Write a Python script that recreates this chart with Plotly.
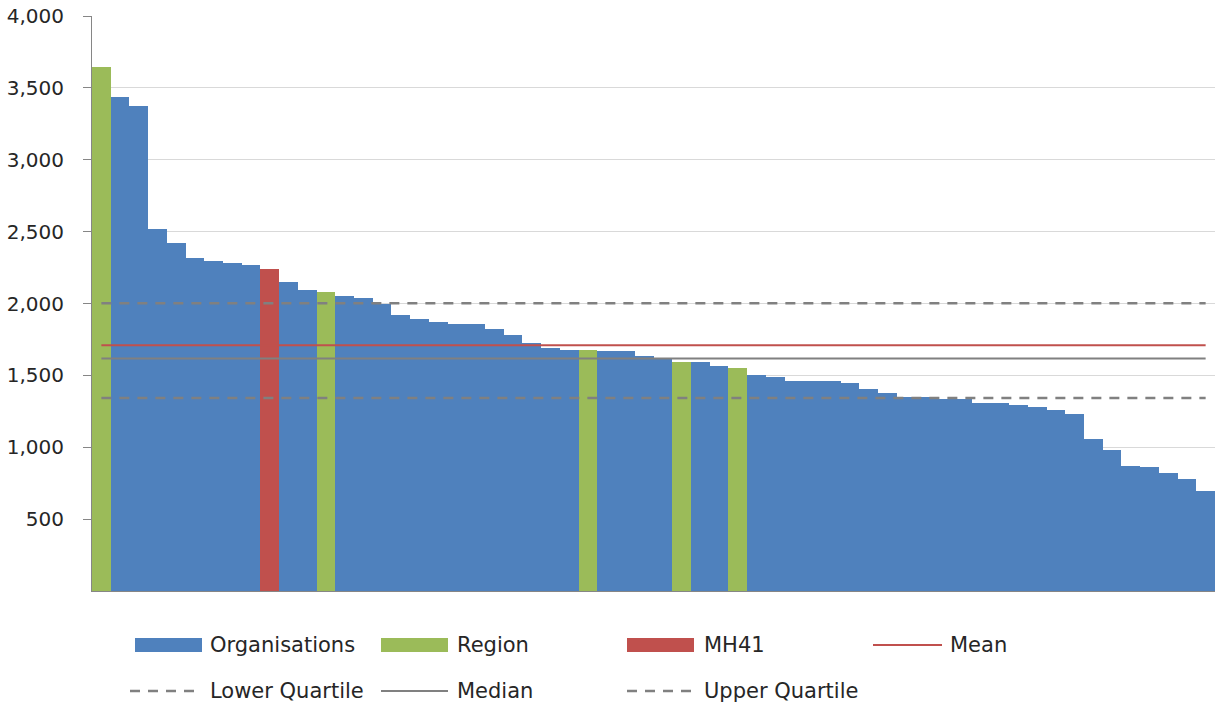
import plotly.graph_objects as go

# ---------------- data ----------------
values = [3647, 3434, 3373, 2517, 2419, 2320, 2294, 2283, 2267, 2238,
          2153, 2097, 2081, 2055, 2036, 1994, 1922, 1895, 1869, 1858,
          1857, 1820, 1783, 1724, 1689, 1680, 1677, 1671, 1671, 1634,
          1622, 1590, 1590, 1562, 1548, 1500, 1486, 1459, 1459, 1459,
          1449, 1406, 1378, 1353, 1353, 1334, 1334, 1306, 1306, 1297,
          1281, 1262, 1228, 1058, 982, 873, 864, 820, 777, 696]
positions = list(range(1, 61))
region_positions = [1, 13, 27, 32, 35]
mh41_positions = [10]

mean_value = 1709
median_value = 1618
lower_quartile = 1343
upper_quartile = 2001

y_tick_values = [500, 1000, 1500, 2000, 2500, 3000, 3500, 4000]
y_tick_labels = ["500", "1,000", "1,500", "2,000", "2,500", "3,000", "3,500", "4,000"]

BLUE = "#4F81BD"
GREEN = "#9BBB59"
RED = "#C0504D"
GREY = "#808080"
FONT = "DejaVu Sans"

# ---------------- series ----------------
org_y = [v if (p not in region_positions and p not in mh41_positions) else None
         for p, v in zip(positions, values)]
reg_y = [v if p in region_positions else None for p, v in zip(positions, values)]
mh_y = [v if p in mh41_positions else None for p, v in zip(positions, values)]

fig = go.Figure()
fig.add_trace(go.Bar(x=positions, y=org_y, name="Organisations",
                     marker=dict(color=BLUE, line=dict(width=0))))
fig.add_trace(go.Bar(x=positions, y=reg_y, name="Region",
                     marker=dict(color=GREEN, line=dict(width=0))))
fig.add_trace(go.Bar(x=positions, y=mh_y, name="MH41",
                     marker=dict(color=RED, line=dict(width=0))))

xs = [positions[0], positions[-1]]
fig.add_trace(go.Scatter(x=xs, y=[mean_value] * 2, mode="lines", name="Mean",
                         line=dict(color=RED, width=2)))
fig.add_trace(go.Scatter(x=xs, y=[lower_quartile] * 2, mode="lines", name="Lower Quartile",
                         line=dict(color=GREY, width=2.5, dash="10px,8px")))
fig.add_trace(go.Scatter(x=xs, y=[median_value] * 2, mode="lines", name="Median",
                         line=dict(color=GREY, width=2)))
fig.add_trace(go.Scatter(x=xs, y=[upper_quartile] * 2, mode="lines", name="Upper Quartile",
                         line=dict(color=GREY, width=2.5, dash="10px,8px")))

# ---------------- layout ----------------
W, H = 1215, 706
L, R, T, B = 92, 0, 16, 115
PW, PH = W - L - R, H - T - B


def px(xp):
    return (xp - L) / PW


def py(yp):
    return (H - B - yp) / PH


fig.update_layout(
    width=W, height=H,
    margin=dict(l=L, r=R, t=T, b=B, pad=0),
    paper_bgcolor="white", plot_bgcolor="white",
    barmode="overlay", bargap=0,
    showlegend=False,
    font=dict(family=FONT, size=20, color="#262626"),
    xaxis=dict(range=[0.5, 60.5], showticklabels=False, ticks="",
               showgrid=False, zeroline=False, showline=True,
               linecolor="#868686", linewidth=1),
    yaxis=dict(range=[0, 4000], tickvals=y_tick_values, ticktext=y_tick_labels,
               ticks="outside", ticklen=8, tickcolor="#868686",
               showline=True, linecolor="#868686", linewidth=1,
               showgrid=True, gridcolor="#D9D9D9", gridwidth=1,
               zeroline=False, ticklabelstandoff=15,
               tickfont=dict(family=FONT, size=20, color="#262626")),
)

# ---------------- legend (drawn) ----------------
legend_items = [
    ("rect", BLUE, None, 135, 202, 645, "Organisations", 208),
    ("rect", GREEN, None, 381, 448, 645, "Region", 455),
    ("rect", RED, None, 627, 694, 645, "MH41", 702),
    ("line", RED, "solid", 873, 942, 645, "Mean", 948),
    ("line", GREY, "dash", 130, 198, 691, "Lower Quartile", 208),
    ("line", GREY, "solid", 381, 448, 691, "Median", 455),
    ("line", GREY, "dash", 627, 694, 691, "Upper Quartile", 702),
]
for kind, color, dash, x0, x1, yc, label, tx in legend_items:
    if kind == "rect":
        fig.add_shape(type="rect", xref="paper", yref="paper",
                      x0=px(x0), x1=px(x1), y0=py(yc + 7), y1=py(yc - 7),
                      fillcolor=color, line=dict(width=0))
    else:
        fig.add_shape(type="line", xref="paper", yref="paper",
                      x0=px(x0), x1=px(x1), y0=py(yc), y1=py(yc),
                      line=dict(color=color, width=2.5 if dash == "dash" else 2,
                                dash="10px,8px" if dash == "dash" else "solid"))
    fig.add_annotation(text=label, xref="paper", yref="paper",
                       x=px(tx), y=py(yc), xanchor="left", yanchor="middle",
                       showarrow=False, font=dict(family=FONT, size=21, color="#262626"))

fig.write_html("out.html",
               config={"displayModeBar": False},
               post_script="document.body.style.margin='0';document.body.style.overflow='hidden';")
